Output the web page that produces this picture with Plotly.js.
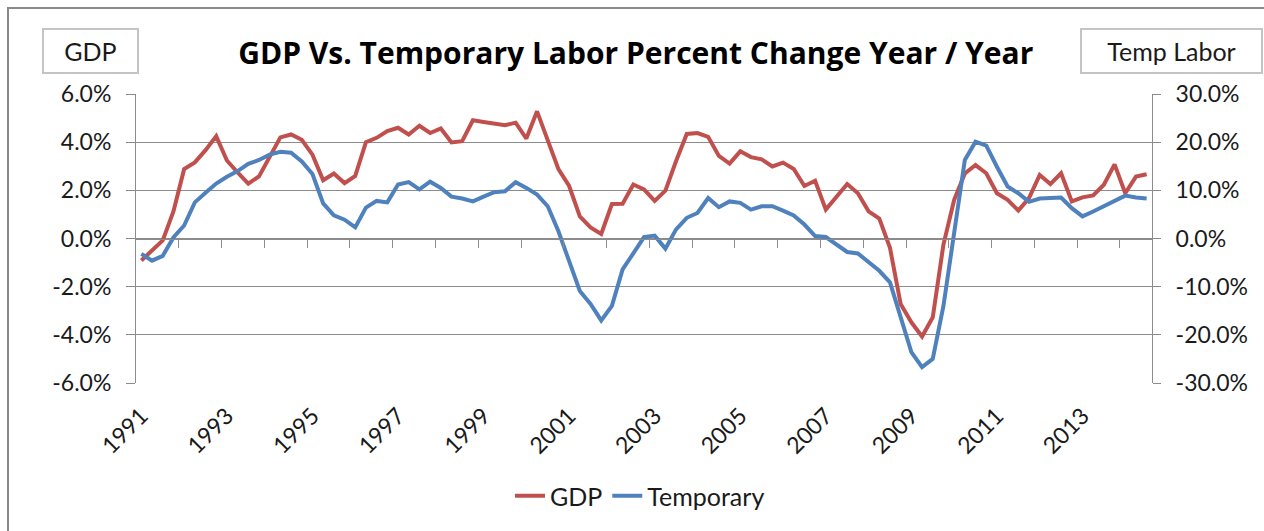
<!DOCTYPE html>
<html><head><meta charset="utf-8">
<script src="https://cdn.plot.ly/plotly-3.0.1.min.js"></script>
<style>
html,body{margin:0;padding:0;overflow:hidden;background:#fff}
#chart{width:1264px;height:531px}
#frame{position:absolute;left:7px;top:7px;width:1400px;height:700px;border:2px solid #8a8a8a;pointer-events:none}
</style></head><body>
<div id="chart"></div><div id="frame"></div>
<script>
const startYear = 1991;
const seriesNames = ['GDP', 'Temporary'];
const gdp = [-0.91,-0.52,-0.08,1.12,2.88,3.16,3.67,4.25,3.24,2.74,2.28,2.58,3.35,4.2,4.32,4.1,
  3.48,2.42,2.7,2.3,2.6,4.0,4.18,4.46,4.6,4.32,4.68,4.38,4.57,3.99,4.04,4.91,4.84,4.75,4.7,
  4.81,4.15,5.28,4.05,2.88,2.18,0.92,0.46,0.19,1.43,1.44,2.24,2.04,1.56,1.99,3.22,4.34,4.38,
  4.22,3.43,3.11,3.62,3.38,3.29,2.99,3.15,2.89,2.18,2.4,1.2,1.71,2.26,1.88,1.13,0.83,-0.39,
  -2.72,-3.48,-4.07,-3.27,-0.25,1.6,2.7,3.05,2.71,1.88,1.61,1.16,1.68,2.64,2.26,2.71,1.54,
  1.71,1.79,2.23,3.08,1.88,2.57,2.67];
const temporary = [-3.2,-4.6,-3.6,0.2,2.7,7.5,9.5,11.4,12.8,14.0,15.5,16.3,17.4,18.0,17.8,16.0,
  13.4,7.3,4.8,3.9,2.3,6.4,7.8,7.5,11.2,11.7,10.2,11.8,10.5,8.7,8.3,7.7,8.7,9.6,9.8,11.7,10.5,
  9.1,6.7,1.5,-4.7,-10.9,-13.6,-17.0,-14.0,-6.4,-3.1,0.3,0.6,-2.1,1.9,4.3,5.3,8.4,6.5,7.7,7.4,
  6.0,6.7,6.7,5.8,4.8,2.9,0.5,0.3,-1.2,-2.8,-3.1,-4.8,-6.7,-9.1,-16.4,-23.6,-26.7,-25.0,-14.0,
  1.0,16.3,20.1,19.3,14.9,10.8,9.4,7.6,8.3,8.5,8.5,6.3,4.6,5.6,6.7,7.8,8.9,8.5,8.3];
const yearLabels = [1991,1993,1995,1997,1999,2001,2003,2005,2007,2009,2011,2013];
const leftTicks = [-6,-4,-2,0,2,4,6];
const rightTicks = [-30,-20,-10,0,10,20,30];

const n = gdp.length;
const quarters = gdp.map((_, i) => startYear + i / 4);
const xRange = [startYear - 0.125, startYear + (n - 0.5) / 4];
const boundaries = [];
for (let v = startYear - 0.125 + 1; v < xRange[1] - 0.01; v += 1) boundaries.push(v);

const FONT = 'Lato, "Open Sans", sans-serif';
const TFONT = '"Open Sans", Lato, sans-serif';
const GRID = '#8c8c8c';
const TXT = '#1a1a1a';

const traces = [
  {x: quarters, y: gdp, name: seriesNames[0], type: 'scatter', mode: 'lines',
   line: {color: '#C0504D', width: 4}, yaxis: 'y'},
  {x: quarters, y: temporary, name: seriesNames[1], type: 'scatter', mode: 'lines',
   line: {color: '#4F81BD', width: 4}, yaxis: 'y2'},
  {x: [], y: [], xaxis: 'x2', yaxis: 'y', showlegend: false, hoverinfo: 'skip'}
];

const layout = {
  width: 1264, height: 531,
  margin: {l: 136, r: 112, t: 94, b: 148},
  paper_bgcolor: '#fff', plot_bgcolor: '#fff',
  font: {family: FONT, color: TXT, size: 23},
  title: {text: '<b>GDP Vs. Temporary Labor Percent Change Year / Year</b>',
    font: {family: TFONT, size: 30, color: '#000'},
    xref: 'container', x: 0.503, xanchor: 'center',
    yref: 'container', y: 1 - 53 / 531, yanchor: 'middle'},
  xaxis: {range: xRange, tickvals: yearLabels, ticktext: yearLabels.map(String),
    tickangle: -45, showgrid: false, zeroline: false, showline: false, ticks: '',
    tickfont: {size: 23, color: TXT}, automargin: false, ticklabelstandoff: 14},
  xaxis2: {overlaying: 'x', anchor: 'free', position: 0.5, range: xRange,
    tickvals: boundaries, ticks: 'outside', ticklen: 8, tickcolor: GRID, tickwidth: 1,
    showticklabels: false, showline: true, linecolor: GRID, linewidth: 1,
    showgrid: false, zeroline: false, automargin: false},
  yaxis: {range: [-6, 6], tickvals: leftTicks, ticktext: leftTicks.map(v => v.toFixed(1) + '%'),
    showgrid: true, gridcolor: GRID, gridwidth: 1, ticks: 'outside', ticklen: 9,
    tickcolor: GRID, showline: true, linecolor: GRID, zeroline: false,
    tickfont: {size: 23, color: TXT}, automargin: false, ticklabelstandoff: 10},
  yaxis2: {overlaying: 'y', side: 'right', range: [-30, 30], tickvals: rightTicks,
    ticktext: rightTicks.map(v => v.toFixed(1) + '%'), showgrid: false,
    ticks: 'outside', ticklen: 8, tickcolor: GRID, showline: true, linecolor: GRID,
    zeroline: false, tickfont: {size: 23, color: TXT}, automargin: false, ticklabelstandoff: 10},
  legend: {orientation: 'h', x: (640 - 136) / 1016, xanchor: 'center',
    yref: 'container', y: 1 - 496 / 531, yanchor: 'middle',
    font: {size: 25, color: TXT}, bgcolor: 'rgba(0,0,0,0)'},
  annotations: [
    {text: 'GDP', xref: 'paper', yref: 'paper', x: (90.3 - 136) / 1016, y: (383 - 50.5) / 289,
     xanchor: 'center', yanchor: 'middle', showarrow: false, width: 93, height: 42,
     borderwidth: 2, bordercolor: '#c4c4c4', borderpad: 0, font: {size: 25, color: TXT}},
    {text: 'Temp Labor', xref: 'paper', yref: 'paper', x: (1171.7 - 136) / 1016, y: (383 - 50.5) / 289,
     xanchor: 'center', yanchor: 'middle', showarrow: false, width: 179, height: 42,
     borderwidth: 2, bordercolor: '#c4c4c4', borderpad: 0, font: {size: 25, color: TXT}}
  ],
  showlegend: true
};

Plotly.newPlot('chart', traces, layout, {displayModeBar: false, staticPlot: true});
</script>
</body></html>
